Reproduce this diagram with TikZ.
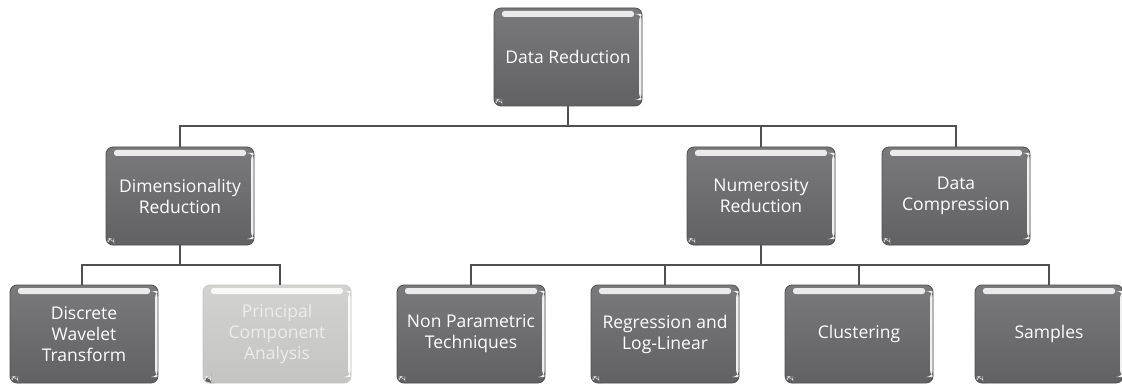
\documentclass[tikz,border=0pt]{standalone}
\usepackage{fontspec}
\setmainfont{Open Sans}
\usetikzlibrary{calc}
\definecolor{boxtop}{HTML}{7A7A7C}
\definecolor{boxbot}{HTML}{616163}
\definecolor{boxedge}{HTML}{4E4E50}
\definecolor{linecol}{HTML}{505052}
\definecolor{paletop}{HTML}{D2D2D0}
\definecolor{palebot}{HTML}{C4C4C2}
\definecolor{paletext}{HTML}{EDEDEB}
\tikzset{
  x=1pt, y=1pt,
  gloss/.style={
    path picture={
      % glossy strip along the top
      \fill[white, opacity=0.85, rounded corners=2.5pt]
        ([xshift=8pt,yshift=-3pt]path picture bounding box.north west)
        rectangle ([xshift=-8pt,yshift=-9pt]path picture bounding box.north east);
      % light rim on the right side
      \fill[white, opacity=0.9]
        ([xshift=-3pt,yshift=-6pt]path picture bounding box.north east)
        rectangle ([yshift=6pt]path picture bounding box.south east);
      % small light curl in the bottom left corner
      \fill[white, opacity=0.9]
        (path picture bounding box.south west) rectangle ++(8pt,7pt);
      \fill[boxbot]
        ([xshift=8pt,yshift=7pt]path picture bounding box.south west)
        -- ++(0,-3.5pt) arc[start angle=0, end angle=-90, radius=3.5pt] -- ++(-4.5pt,0)
        -- ++(0,3.5pt) -- cycle;
    }},
  card/.style={gloss, rectangle, rounded corners=7pt, draw=boxedge, line width=0.8pt,
    top color=boxtop, bottom color=boxbot,
    minimum width=148pt, minimum height=98pt, text=white, align=center,
    font=\fontsize{17.5}{21}\selectfont, inner sep=2pt},
  palecard/.style={card, draw=palebot, top color=paletop, bottom color=palebot, text=paletext},
  link/.style={draw=linecol, line width=2pt}
}
\begin{document}
\begin{tikzpicture}
\useasboundingbox (0,0) rectangle (1122,-385);

% level 0
\node[card] (dr) at (568,-57) {Data Reduction};

% level 1
\node[card] (dim) at (180,-196) {Dimensionality\\Reduction};
\node[card] (num) at (761,-196) {Numerosity\\Reduction};
\node[card] (comp) at (956,-196) {Data\\Compression};

% level 2
\node[card] (dwt) at (84,-334) {Discrete\\Wavelet\\Transform};
\node[palecard] (pca) at (277,-334) {Principal\\Component\\Analysis};
\node[card] (np) at (471,-334) {Non Parametric\\Techniques};
\node[card] (reg) at (665,-334) {Regression and\\Log-Linear};
\node[card] (clu) at (859,-334) {Clustering};
\node[card] (sam) at (1049,-334) {Samples};

% bus lines
\coordinate (busA) at (0,-126);
\coordinate (busB) at (0,-265);

\draw[link] (dr.south) -- (dr.south |- busA);
\draw[link] (dim.north) |- (comp.north |- busA) -- (comp.north);
\draw[link] (num.north) -- (num.north |- busA);

\draw[link] (dim.south) -- (dim.south |- busB);
\draw[link] ([xshift=-2pt]dwt.north) |- ([xshift=3pt]pca.north |- busB) -- ([xshift=3pt]pca.north);

\draw[link] (num.south) -- (num.south |- busB);
\draw[link] (np.north) |- (sam.north |- busB) -- (sam.north);
\draw[link] (reg.north) -- (reg.north |- busB);
\draw[link] (clu.north) -- (clu.north |- busB);
\end{tikzpicture}
\end{document}
